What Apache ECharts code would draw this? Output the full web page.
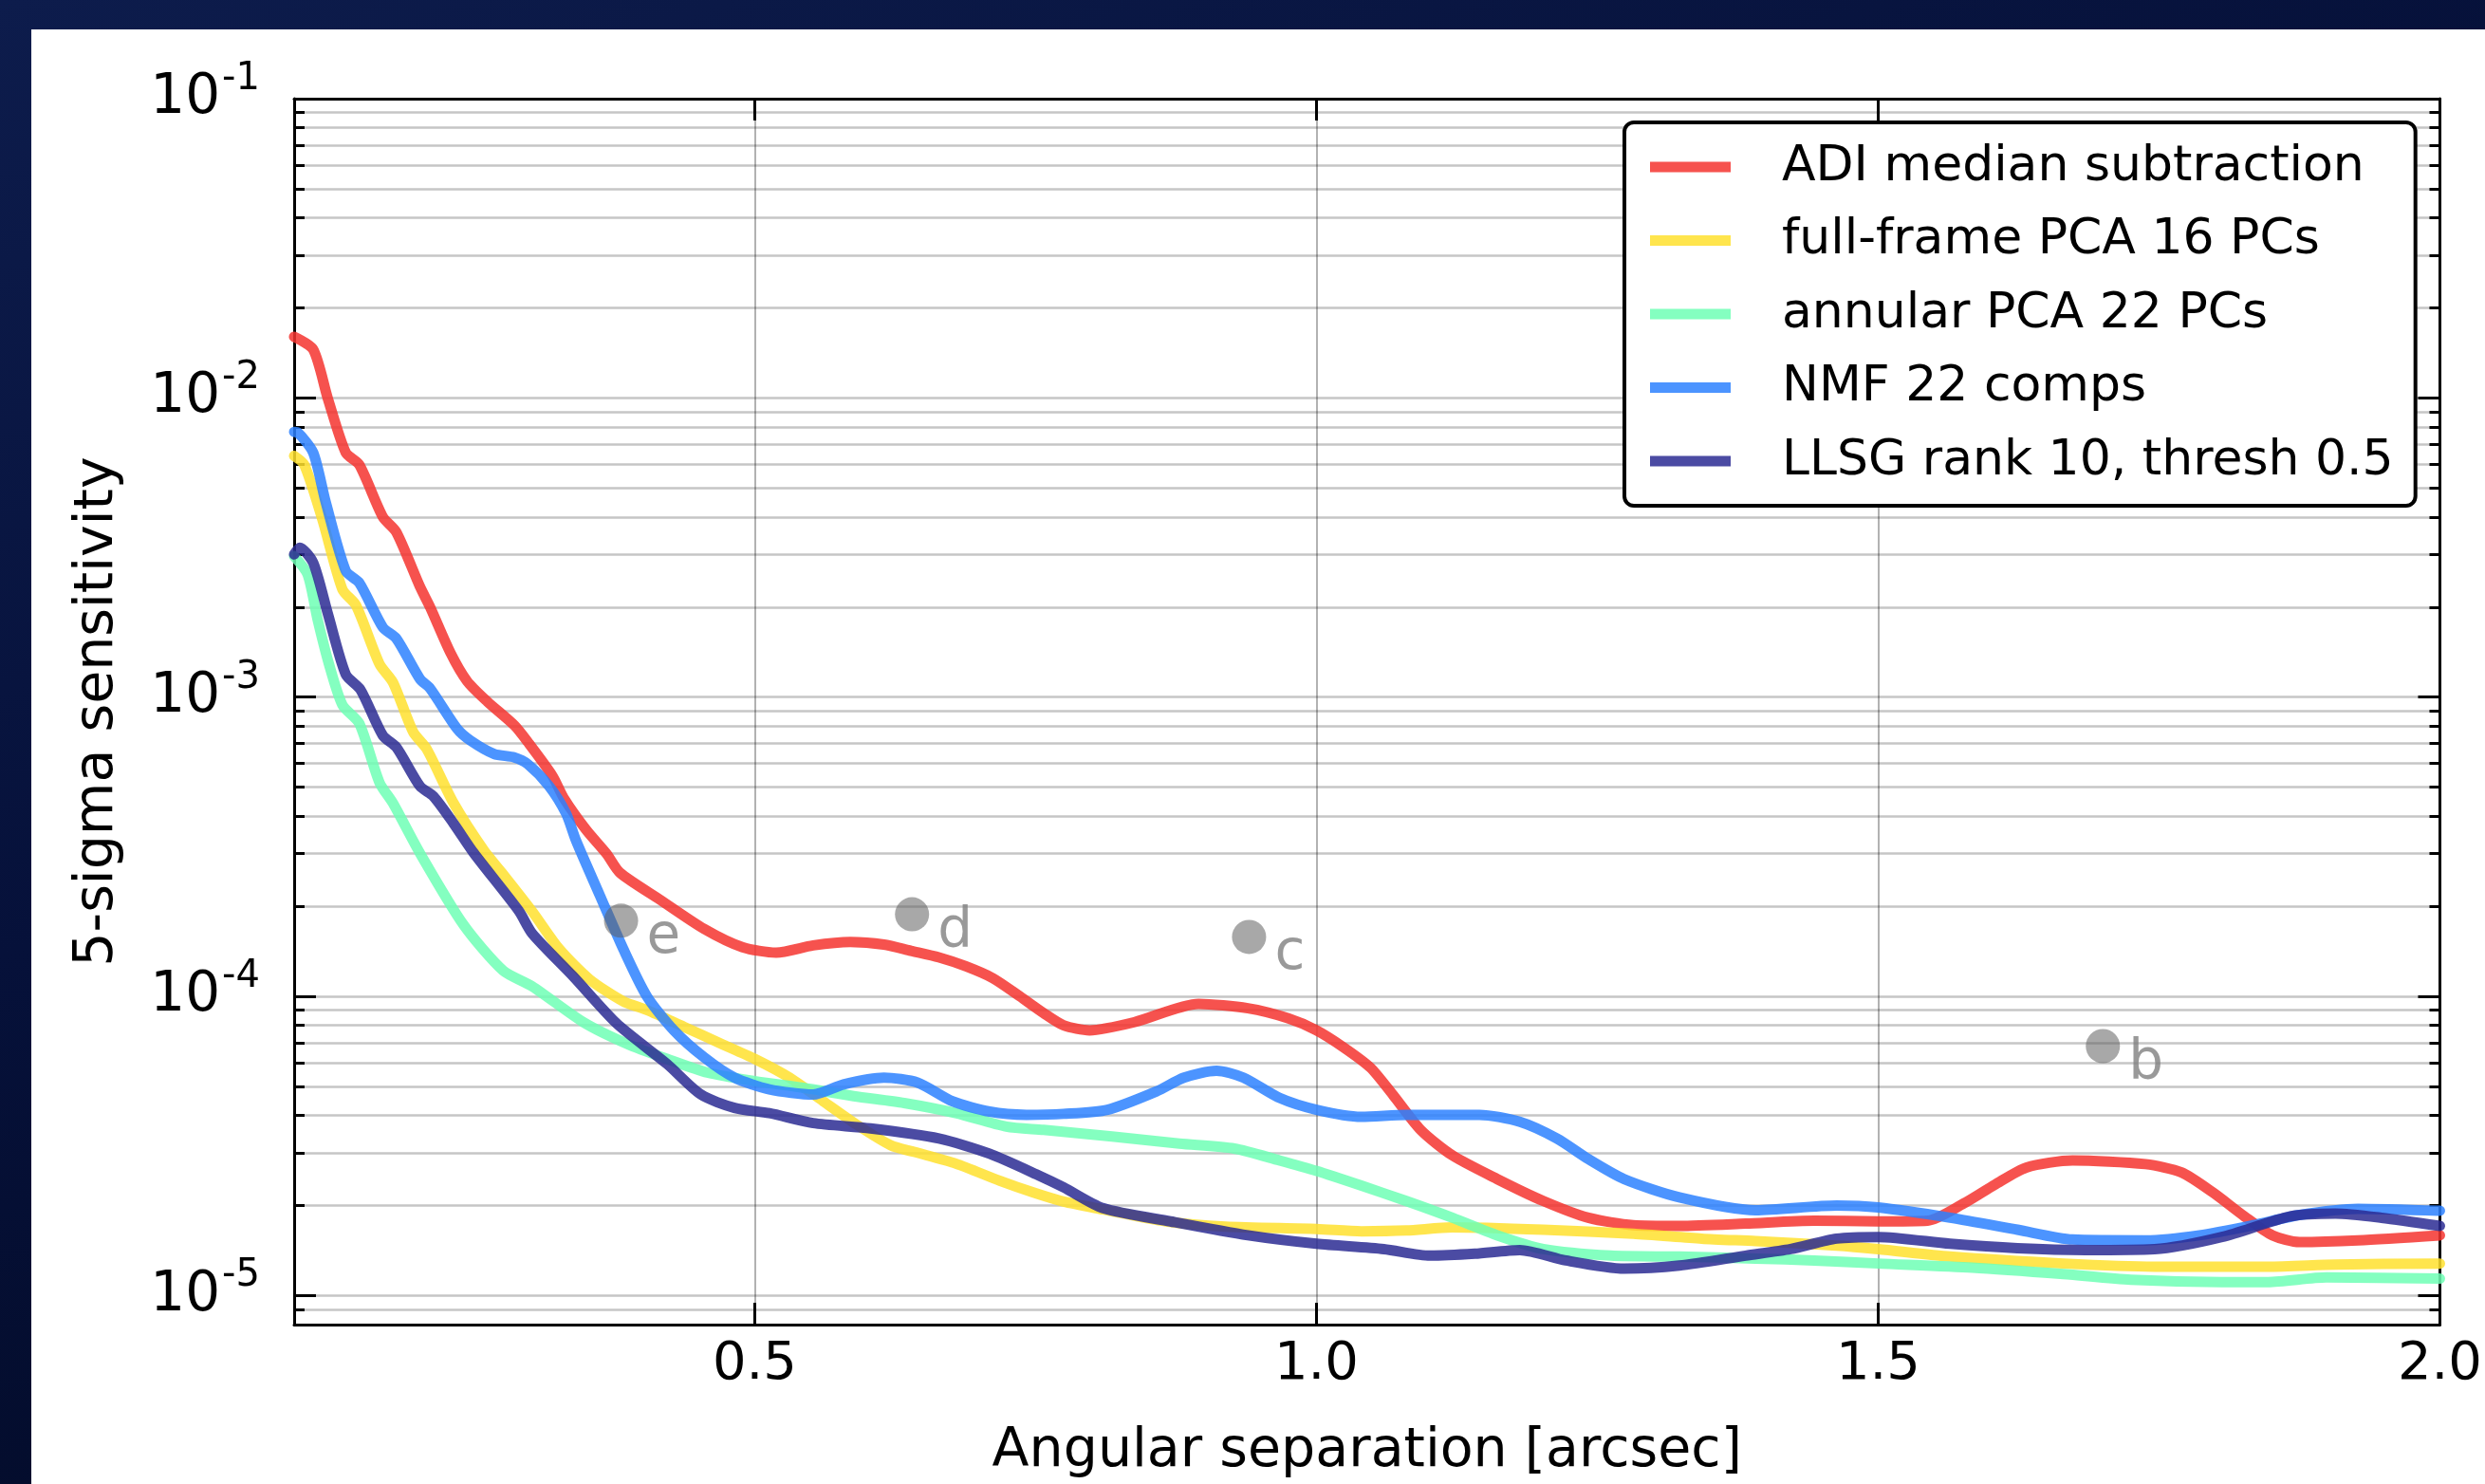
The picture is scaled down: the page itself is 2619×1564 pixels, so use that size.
<!DOCTYPE html>
<html>
<head>
<meta charset="utf-8">
<script src="https://cdn.jsdelivr.net/npm/echarts@6/dist/echarts.min.js"></script>
<style>
  html, body { margin: 0; padding: 0; width: 2619px; height: 1564px; overflow: hidden;
    background: linear-gradient(160deg, #0d1c4c 0%, #06113a 40%, #000618 100%); }
  #panel { position: absolute; left: 33px; top: 31px; right: 0; bottom: 0; background: #ffffff; }
  #chart { position: absolute; left: 0; top: 0; width: 2619px; height: 1564px; }
</style>
</head>
<body>
<div id="panel"></div>
<div id="chart"></div>
<script>
// ---------------- data ----------------
const seriesNames = ['ADI median subtraction', 'full-frame PCA 16 PCs', 'annular PCA 22 PCs', 'NMF 22 comps', 'LLSG rank 10, thresh 0.5'];

const sepAdi  = [0.09,0.107,0.120,0.136,0.148,0.169,0.181,0.202,0.211,0.229,0.244,0.262,0.286,0.298,0.320,0.330,0.350,0.368,0.380,0.416,0.455,0.489,0.519,0.552,0.585,0.615,0.639,0.664,0.688,0.712,0.736,0.757,0.775,0.798,0.838,0.895,0.939,0.975,1.0,1.024,1.048,1.068,1.093,1.121,1.161,1.202,1.242,1.282,1.323,1.382,1.443,1.5,1.544,1.576,1.604,1.632,1.673,1.738,1.770,1.798,1.826,1.851,1.875,1.927,2.0];
const sensAdi = [0.0160,0.0145,0.00995,0.00656,0.00598,0.0040,0.00356,0.00234,0.0020,0.00141,0.00113,9.66e-4,8.05e-4,7.08e-4,5.45e-4,4.6e-4,3.6e-4,3.0e-4,2.59e-4,2.10e-4,1.68e-4,1.46e-4,1.40e-4,1.48e-4,1.52e-4,1.49e-4,1.42e-4,1.35e-4,1.26e-4,1.15e-4,1.0e-4,8.8e-5,8.0e-5,7.7e-5,8.2e-5,9.44e-5,9.12e-5,8.44e-5,7.7e-5,6.76e-5,5.78e-5,4.69e-5,3.57e-5,2.94e-5,2.45e-5,2.07e-5,1.82e-5,1.72e-5,1.71e-5,1.74e-5,1.78e-5,1.77e-5,1.78e-5,2.03e-5,2.35e-5,2.68e-5,2.83e-5,2.75e-5,2.58e-5,2.21e-5,1.84e-5,1.59e-5,1.51e-5,1.53e-5,1.59e-5];

const sepFfpca  = [0.09,0.099,0.115,0.133,0.145,0.166,0.178,0.196,0.208,0.232,0.259,0.276,0.302,0.326,0.353,0.383,0.404,0.437,0.470,0.5,0.531,0.561,0.591,0.621,0.642,0.679,0.718,0.748,0.775,0.810,0.866,0.919,1.0,1.040,1.080,1.121,1.202,1.282,1.343,1.391,1.463,1.5,1.564,1.665,1.746,1.847,1.907,2.0];
const sensFfpca = [6.4e-3,5.98e-3,3.94e-3,2.29e-3,2.03e-3,1.29e-3,1.12e-3,7.64e-4,6.71e-4,4.42e-4,3.07e-4,2.56e-4,1.92e-4,1.44e-4,1.14e-4,9.62e-5,9.0e-5,7.91e-5,6.95e-5,6.18e-5,5.35e-5,4.46e-5,3.72e-5,3.18e-5,3.02e-5,2.76e-5,2.42e-5,2.21e-5,2.06e-5,1.94e-5,1.77e-5,1.70e-5,1.67e-5,1.64e-5,1.65e-5,1.69e-5,1.66e-5,1.61e-5,1.55e-5,1.52e-5,1.47e-5,1.43e-5,1.35e-5,1.28e-5,1.25e-5,1.25e-5,1.27e-5,1.28e-5];

const sepAnnpca  = [0.09,0.102,0.111,0.121,0.133,0.148,0.166,0.178,0.202,0.241,0.276,0.302,0.347,0.386,0.422,0.458,0.5,0.543,0.588,0.633,0.679,0.724,0.757,0.818,0.878,0.927,0.967,1.0,1.040,1.080,1.121,1.161,1.202,1.262,1.323,1.391,1.443,1.5,1.584,1.665,1.725,1.806,1.847,1.899,2.0];
const sensAnnpca = [2.96e-3,2.57e-3,1.81e-3,1.29e-3,9.42e-4,8.17e-4,5.18e-4,4.42e-4,3.01e-4,1.73e-4,1.22e-4,1.08e-4,8.22e-5,6.95e-5,6.18e-5,5.56e-5,5.21e-5,4.95e-5,4.64e-5,4.40e-5,4.07e-5,3.67e-5,3.58e-5,3.40e-5,3.22e-5,3.10e-5,2.83e-5,2.61e-5,2.33e-5,2.07e-5,1.82e-5,1.59e-5,1.43e-5,1.36e-5,1.35e-5,1.33e-5,1.31e-5,1.28e-5,1.24e-5,1.18e-5,1.13e-5,1.11e-5,1.11e-5,1.15e-5,1.14e-5];

const sepNmf  = [0.09,0.093,0.107,0.118,0.136,0.148,0.169,0.181,0.202,0.211,0.235,0.247,0.268,0.286,0.298,0.317,0.332,0.341,0.362,0.383,0.404,0.428,0.455,0.482,0.513,0.552,0.579,0.615,0.645,0.676,0.709,0.742,0.775,0.814,0.858,0.882,0.911,0.935,0.967,1.0,1.040,1.080,1.145,1.181,1.214,1.242,1.274,1.323,1.391,1.463,1.5,1.564,1.624,1.673,1.738,1.786,1.834,1.875,1.927,2.0];
const sensNmf = [7.7e-3,7.67e-3,6.56e-3,4.5e-3,2.64e-3,2.41e-3,1.71e-3,1.57e-3,1.15e-3,1.07e-3,7.85e-4,7.16e-4,6.46e-4,6.29e-4,5.97e-4,5.04e-4,4.09e-4,3.31e-4,2.18e-4,1.44e-4,1.0e-4,7.7e-5,6.25e-5,5.35e-5,4.89e-5,4.70e-5,5.08e-5,5.35e-5,5.15e-5,4.46e-5,4.12e-5,4.02e-5,4.05e-5,4.18e-5,4.82e-5,5.35e-5,5.64e-5,5.35e-5,4.58e-5,4.18e-5,3.96e-5,4.02e-5,4.02e-5,3.81e-5,3.35e-5,2.86e-5,2.45e-5,2.13e-5,1.93e-5,2.0e-5,1.97e-5,1.82e-5,1.66e-5,1.54e-5,1.53e-5,1.59e-5,1.72e-5,1.86e-5,1.95e-5,1.92e-5];

const sepLlsg  = [0.09,0.095,0.107,0.120,0.136,0.149,0.169,0.181,0.202,0.214,0.232,0.250,0.290,0.302,0.338,0.377,0.422,0.452,0.482,0.513,0.552,0.603,0.664,0.709,0.754,0.775,0.810,0.870,0.939,1.0,1.060,1.101,1.141,1.181,1.222,1.274,1.323,1.382,1.422,1.463,1.5,1.564,1.624,1.685,1.746,1.806,1.867,1.907,1.948,2.0];
const sensLlsg = [3.0e-3,3.16e-3,2.81e-3,1.90e-3,1.19e-3,1.06e-3,7.44e-4,6.80e-4,5.04e-4,4.66e-4,3.78e-4,3.01e-4,1.93e-4,1.62e-4,1.17e-4,8.12e-5,5.94e-5,4.70e-5,4.24e-5,4.07e-5,3.77e-5,3.62e-5,3.35e-5,2.98e-5,2.51e-5,2.3e-5,1.96e-5,1.77e-5,1.59e-5,1.49e-5,1.43e-5,1.36e-5,1.38e-5,1.42e-5,1.31e-5,1.23e-5,1.26e-5,1.36e-5,1.43e-5,1.55e-5,1.57e-5,1.49e-5,1.44e-5,1.42e-5,1.43e-5,1.57e-5,1.84e-5,1.88e-5,1.82e-5,1.71e-5];

const planetNames = ['e', 'd', 'c', 'b'];
const planetSep   = [0.381, 0.640, 0.940, 1.700];
const planetSens  = [1.79e-4, 1.88e-4, 1.58e-4, 6.82e-5];

const xTickValues  = [0.5, 1.0, 1.5, 2.0];
const yMajorValues = [1e-5, 1e-4, 1e-3, 1e-2, 1e-1];
const yMinorValues = [9e-6, 2e-5,3e-5,4e-5,5e-5,6e-5,7e-5,8e-5,9e-5, 2e-4,3e-4,4e-4,5e-4,6e-4,7e-4,8e-4,9e-4, 2e-3,3e-3,4e-3,5e-3,6e-3,7e-3,8e-3,9e-3, 2e-2,3e-2,4e-2,5e-2,6e-2,7e-2,8e-2,9e-2];

// ---------------- chart ----------------
const FONT = 'DejaVu Sans';
const colors = ['rgba(245,52,47,0.85)', 'rgba(255,224,46,0.85)', 'rgba(111,255,181,0.85)', 'rgba(45,129,255,0.85)', 'rgba(43,43,147,0.85)'];
const sepArrays  = [sepAdi, sepFfpca, sepAnnpca, sepNmf, sepLlsg];
const sensArrays = [sensAdi, sensFfpca, sensAnnpca, sensNmf, sensLlsg];

const Y_MIN = 8e-6, Y_MAX = 0.1;
const gridLine = { show: true, lineStyle: { color: '#c6c6c6', width: 2.5 } };

function yAxisBase(extra) {
  return Object.assign({
    type: 'log', logBase: 10, min: Y_MIN, max: Y_MAX,
    axisLine: { show: false, onZero: false },
    axisLabel: { show: false },
    splitLine: { show: false },
    minorTick: { show: false }
  }, extra);
}

const chart = echarts.init(document.getElementById('chart'), null, { renderer: 'canvas' });

const lineSeries = seriesNames.map((name, i) => ({
  name: name,
  type: 'line',
  xAxisIndex: 0,
  yAxisIndex: 0,
  data: sepArrays[i].map((x, k) => [x, sensArrays[i][k]]),
  showSymbol: false,
  symbol: 'none',
  smooth: 0.25,
  color: colors[i],
  itemStyle: { color: colors[i] },
  lineStyle: { color: colors[i], width: 11, cap: 'round', join: 'round' },
  emphasis: { disabled: true },
  z: 3 + i,
  animation: false
}));

const option = {
  animation: false,
  backgroundColor: 'transparent',
  textStyle: { fontFamily: FONT },
  grid: { left: 310, top: 104, width: 2262, height: 1292, containLabel: false },
  legend: {
    show: true,
    data: seriesNames,
    orient: 'vertical',
    left: 1712, top: 129,
    icon: 'rect',
    itemWidth: 85, itemHeight: 11,
    itemGap: 25.5,
    padding: [21, 23, 21, 27],
    backgroundColor: '#ffffff',
    borderColor: '#000000', borderWidth: 4, borderRadius: 10,
    selectedMode: false,
    formatter: name => '{t|' + name + '}',
    textStyle: {
      fontFamily: FONT, fontSize: 52, color: '#000',
      rich: { t: { fontFamily: FONT, fontSize: 52, lineHeight: 52, color: '#000', padding: [0, 0, 0, 49] } }
    },
    z: 20
  },
  xAxis: [
    {
      type: 'value', position: 'bottom', min: 0.09, max: 2.0,
      name: 'Angular separation [arcsec]', nameLocation: 'middle', nameGap: 106,
      nameTextStyle: { fontFamily: FONT, fontSize: 57, color: '#000' },
      axisLine: { show: true, onZero: false, lineStyle: { color: '#000', width: 3 } },
      axisTick: { show: true, inside: true, length: 23, lineStyle: { color: '#000', width: 3 }, customValues: xTickValues },
      axisLabel: { show: true, customValues: xTickValues, margin: 14, fontFamily: FONT, fontSize: 56, color: '#000',
        formatter: v => Number(v).toFixed(1) },
      splitLine: { show: true, lineStyle: { color: 'rgba(0,0,0,0.3)', width: 2 } }
    },
    {
      type: 'value', position: 'top', min: 0.09, max: 2.0,
      axisLine: { show: true, onZero: false, lineStyle: { color: '#000', width: 3 } },
      axisTick: { show: true, inside: true, length: 23, lineStyle: { color: '#000', width: 3 }, customValues: xTickValues },
      axisLabel: { show: false },
      splitLine: { show: false }
    }
  ],
  yAxis: [
    yAxisBase({
      position: 'left',
      name: '5-sigma sensitivity', nameLocation: 'middle', nameGap: 178, nameRotate: 90,
      nameTextStyle: { fontFamily: FONT, fontSize: 57, color: '#000' },
      axisLine: { show: true, onZero: false, lineStyle: { color: '#000', width: 3 } },
      axisTick: { show: true, inside: true, length: 23, lineStyle: { color: '#000', width: 3 }, customValues: yMajorValues },
      axisLabel: {
        show: true, customValues: yMajorValues, margin: 36,
        formatter: v => '{b|10}{s|' + Math.round(Math.log10(v)) + '}',
        rich: {
          b: { fontFamily: FONT, fontSize: 58, color: '#000' },
          s: { fontFamily: FONT, fontSize: 40, color: '#000', padding: [0, 0, 41, 2] }
        }
      },
      splitLine: gridLine
    }),
    yAxisBase({
      position: 'left',
      axisTick: { show: true, inside: true, length: 11, lineStyle: { color: '#000', width: 3 }, customValues: yMinorValues },
      splitLine: gridLine
    }),
    yAxisBase({
      position: 'right',
      axisLine: { show: true, onZero: false, lineStyle: { color: '#000', width: 3 } },
      axisTick: { show: true, inside: true, length: 23, lineStyle: { color: '#000', width: 3 }, customValues: yMajorValues }
    }),
    yAxisBase({
      position: 'right',
      axisTick: { show: true, inside: true, length: 11, lineStyle: { color: '#000', width: 3 }, customValues: yMinorValues }
    })
  ],
  series: lineSeries.concat([{
    name: 'planets',
    type: 'scatter',
    xAxisIndex: 0, yAxisIndex: 0,
    data: planetNames.map((n, k) => [planetSep[k], planetSens[k], n]),
    symbol: 'circle',
    symbolSize: 36,
    itemStyle: { color: 'rgba(95,95,95,0.68)' },
    label: {
      show: true,
      formatter: p => p.value[2],
      position: [45, 37],
      align: 'left', verticalAlign: 'middle',
      fontFamily: FONT, fontSize: 58, color: '#7f7f7f'
    },
    emphasis: { disabled: true },
    z: 10
  }])
};

chart.setOption(option);
</script>
</body>
</html>
